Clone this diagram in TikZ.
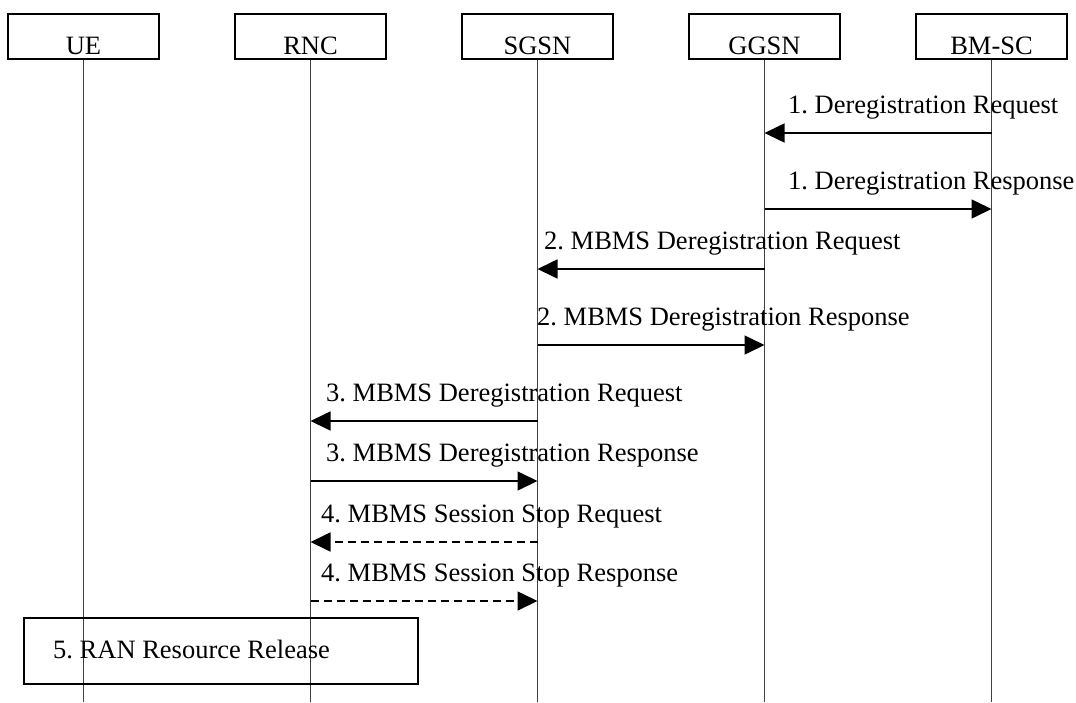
\documentclass[tikz,border=0pt]{standalone}
\usepackage{fontspec}
\setmainfont{Liberation Serif}
\usetikzlibrary{arrows.meta}
\frenchspacing
\begin{document}
\begin{tikzpicture}[x=1pt,y=-1pt,
  txt/.style={font=\fontsize{26.5}{30}\selectfont},
  entity/.style={txt,draw,line width=2pt,minimum width=151pt,inner xsep=0pt,inner ysep=0pt,text height=40.5pt,text depth=4.5pt},
  life/.style={line width=1.1pt,draw=black!75},
  msg/.style={line width=1.6pt,-{Triangle[length=20pt,width=19pt]}},
  dmsg/.style={msg,dash pattern=on 8pt off 5pt},
  lab/.style={txt,anchor=base west,inner sep=0pt},
  actbox/.style={draw,line width=2pt,minimum width=394pt,minimum height=66pt,anchor=north west,inner sep=0pt}]
\useasboundingbox (0,0) rectangle (1076,702);
% entities
\node[entity,anchor=north] (ue)   at (83.5,12.5) {UE};
\node[entity,anchor=north] (rnc)  at (310.5,12.5) {RNC};
\node[entity,anchor=north] (sgsn) at (537.5,12.5) {SGSN};
\node[entity,anchor=north] (ggsn) at (764.5,12.5) {GGSN};
\node[entity,anchor=north] (bmsc) at (991.5,12.5) {BM-SC};
% lifeline ends
\coordinate (ueE)   at (83.5,702);
\coordinate (rncE)  at (310.5,702);
\coordinate (sgsnE) at (537.5,702);
\coordinate (ggsnE) at (764.5,702);
\coordinate (bmscE) at (991.5,702);
\draw[life] (ue.south) -- (ueE);
\draw[life] (rnc.south) -- (rncE);
\draw[life] (sgsn.south) -- (sgsnE);
\draw[life] (ggsn.south) -- (ggsnE);
\draw[life] (bmsc.south) -- (bmscE);
% message end points
\coordinate (b1) at (991.5,133); \coordinate (g1) at (764.5,133);
\coordinate (g2) at (764.5,209); \coordinate (b2) at (991.5,209);
\coordinate (g3) at (764.5,269); \coordinate (s3) at (537.5,269);
\coordinate (s4) at (537.5,345); \coordinate (g4) at (764.5,345);
\coordinate (s5) at (537.5,421); \coordinate (r5) at (310.5,421);
\coordinate (r6) at (310.5,481); \coordinate (s6) at (537.5,481);
\coordinate (s7) at (537.5,542); \coordinate (r7) at (310.5,542);
\coordinate (r8) at (310.5,601); \coordinate (s8) at (537.5,601);
% messages
\draw[msg] (b1) -- (g1);
\node[lab] (l1) at (788,113) {1. Deregistration Request};
\draw[msg] (g2) -- (b2);
\node[lab] (l2) at (788,189) {1. Deregistration Response};
\draw[msg] (g3) -- (s3);
\node[lab] (l3) at (544,249) {2. MBMS Deregistration Request};
\draw[msg] (s4) -- (g4);
\node[lab] (l4) at (537,325) {2. MBMS Deregistration Response};
\draw[msg] (s5) -- (r5);
\node[lab] (l5) at (326,401) {3. MBMS Deregistration Request};
\draw[msg] (r6) -- (s6);
\node[lab] (l6) at (326,461) {3. MBMS Deregistration Response};
\draw[dmsg] (s7) -- (r7);
\node[lab] (l7) at (321,522) {4. MBMS Session Stop Request};
\draw[dmsg] (r8) -- (s8);
\node[lab] (l8) at (321,581) {4. MBMS Session Stop Response};
% RAN resource release
\node[actbox] (ran) at (23,617) {};
\node[lab] (l9) at (53,658) {5. RAN Resource Release};
\end{tikzpicture}
\end{document}
